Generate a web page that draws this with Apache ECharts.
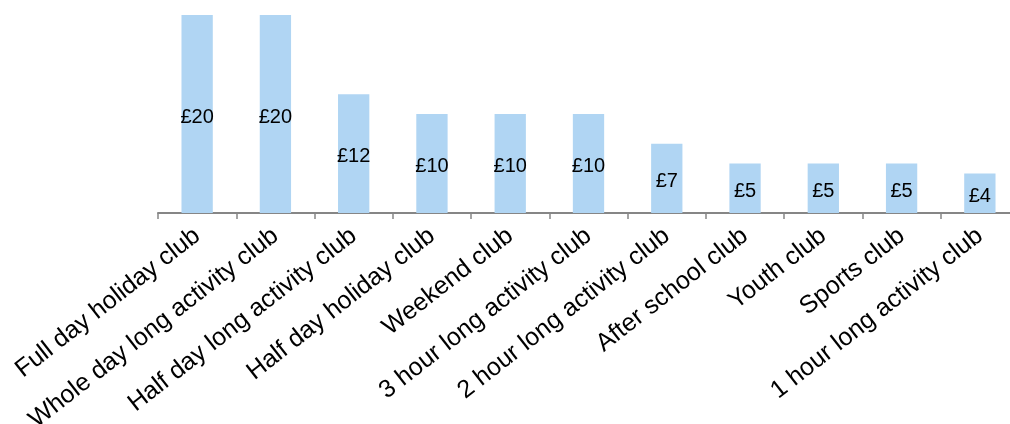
<!DOCTYPE html>
<html>
<head>
<meta charset="utf-8">
<script src="https://cdn.jsdelivr.net/npm/echarts@6/dist/echarts.min.js"></script>
<style>
html,body{margin:0;padding:0;background:#fff;}
#chart{width:1010px;height:424px;}
</style>
</head>
<body>
<div id="chart"></div>
<script>
var categories = ["Full day holiday club","Whole day long activity club","Half day long activity club","Half day holiday club","Weekend club","3 hour long activity club","2 hour long activity club","After school club","Youth club","Sports club","1 hour long activity club"];
var values = [20,20,12,10,10,10,7,5,5,5,4];

var chart = echarts.init(document.getElementById('chart'));
chart.setOption({
  animation:false,
  grid:{left:158, top:15, width:861, height:198, outerBoundsMode:'none', containLabel:false},
  xAxis:{
    type:'category',
    data:categories,
    axisLine:{lineStyle:{color:'#868686',width:2}},
    axisTick:{show:true,length:6,lineStyle:{color:'#868686',width:1.5}},
    axisLabel:{rotate:38,interval:0,margin:20,color:'#000',fontSize:25,fontFamily:'Liberation Sans, Arial, sans-serif'}
  },
  yAxis:{type:'value',min:0,max:20,show:false,splitLine:{show:false}},
  series:[{
    type:'bar',
    data:values,
    barWidth:'40%',
    itemStyle:{color:'#b0d5f3'},
    label:{show:true,position:'inside',offset:[0,3],color:'#000',fontSize:20,fontFamily:'Liberation Sans, Arial, sans-serif',formatter:function(p){return '£'+p.value;}}
  }]
});
</script>
</body>
</html>
